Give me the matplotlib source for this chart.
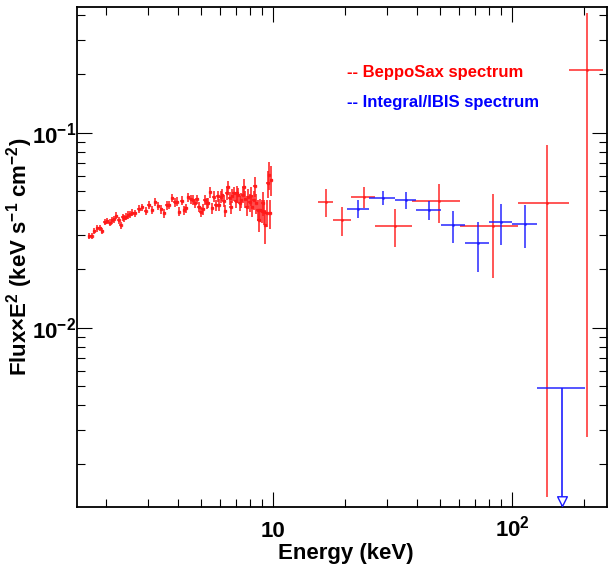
import numpy as np
import matplotlib
matplotlib.use("Agg")
import matplotlib.pyplot as plt
from matplotlib.ticker import FixedLocator, FixedFormatter, LogLocator, NullFormatter
from matplotlib.path import Path

plt.rcParams['font.family'] = ['Liberation Sans', 'DejaVu Sans']
plt.rcParams['font.weight'] = 'bold'
plt.rcParams['mathtext.fontset'] = 'custom'
plt.rcParams['mathtext.rm'] = 'Liberation Sans:bold'
plt.rcParams['mathtext.bf'] = 'Liberation Sans:bold'
plt.rcParams['mathtext.it'] = 'Liberation Sans:bold:italic'

# BeppoSax low energy channels (keV, keV^2 cm^-2 s^-1 keV^-1 * E^2)
E_sax = [1.70, 1.743, 1.788, 1.841, 1.889, 1.931, 1.982, 2.027, 2.080, 2.127,
         2.168, 2.211, 2.261, 2.305, 2.350, 2.388, 2.434, 2.481, 2.529, 2.578,
         2.645, 2.750, 2.840, 2.933, 3.028, 3.127, 3.219, 3.313, 3.410, 3.511,
         3.601, 3.683, 3.791, 3.878, 3.966, 4.056, 4.162, 4.256, 4.325, 4.423,
         4.524, 4.612, 4.701, 4.808, 4.902, 4.997, 5.094, 5.193, 5.277, 5.362,
         5.467, 5.574, 5.645, 5.756, 5.868, 5.944, 6.040, 6.138, 6.237, 6.318,
         6.400, 6.484, 6.589, 6.674, 6.760, 6.870, 6.982, 7.072, 7.163, 7.279,
         7.373, 7.492, 7.564, 7.662, 7.761, 7.861, 7.989, 8.092, 8.196, 8.303,
         8.410, 8.519, 8.628, 8.740, 8.851, 8.966, 9.082, 9.199, 9.288, 9.408,
         9.530, 9.654, 9.745, 9.840]
F_sax = [0.02941, 0.02953, 0.03133, 0.03233, 0.03246, 0.03145, 0.03483, 0.03525, 0.03456, 0.03553,
         0.03595, 0.03754, 0.03567, 0.03350, 0.03681, 0.03638, 0.03710, 0.03784, 0.03814, 0.03890,
         0.03859, 0.04062, 0.04143, 0.03983, 0.04258, 0.04014, 0.04395, 0.04224, 0.04046, 0.03859,
         0.04241, 0.04258, 0.04643, 0.04395, 0.04430, 0.03936, 0.04482, 0.04014, 0.04095, 0.04662,
         0.04553, 0.04517, 0.04344, 0.04553, 0.04176, 0.03936, 0.04046, 0.04517, 0.04344, 0.04377,
         0.04944, 0.04095, 0.04699, 0.04258, 0.04736, 0.04258, 0.04699, 0.04792, 0.04482, 0.03983,
         0.04886, 0.05285, 0.04607, 0.04143, 0.04736, 0.04886, 0.04465, 0.04925, 0.04792, 0.04344,
         0.04517, 0.04792, 0.05285, 0.04553, 0.04143, 0.04662, 0.04395, 0.04736, 0.04176, 0.04517,
         0.05328, 0.04344, 0.04014, 0.03567, 0.04014, 0.03983, 0.04344, 0.03936, 0.03363, 0.03890,
         0.05499, 0.06067, 0.03859, 0.05719]
dF_sax = [0.036, 0.036, 0.037, 0.037, 0.038, 0.038, 0.038, 0.039, 0.039, 0.040,
          0.040, 0.040, 0.041, 0.041, 0.042, 0.042, 0.042, 0.043, 0.043, 0.043,
          0.044, 0.044, 0.045, 0.045, 0.046, 0.046, 0.047, 0.047, 0.048, 0.048,
          0.049, 0.049, 0.050, 0.050, 0.051, 0.052, 0.052, 0.053, 0.053, 0.054,
          0.055, 0.056, 0.056, 0.057, 0.058, 0.059, 0.060, 0.060, 0.061, 0.062,
          0.063, 0.064, 0.065, 0.066, 0.067, 0.068, 0.069, 0.070, 0.071, 0.072,
          0.074, 0.075, 0.077, 0.078, 0.080, 0.082, 0.083, 0.085, 0.087, 0.089,
          0.091, 0.093, 0.095, 0.098, 0.100, 0.103, 0.106, 0.109, 0.112, 0.115,
          0.118, 0.122, 0.126, 0.130, 0.134, 0.138, 0.142, 0.146, 0.200, 0.155,
          0.160, 0.165, 0.170, 0.175]
dE_sax = 0.015   # half channel width, fraction of E

# BeppoSax PDS bins
E_pds = [16.62, 19.44, 24.03, 32.49, 49.50, 83.0, 139.7, 206.6]
Elo_pds = [15.47, 17.77, 21.14, 26.79, 38.27, 60.6, 105.6, 173.2]
Ehi_pds = [17.77, 21.14, 26.79, 38.05, 60.60, 105.6, 173.2, 240.3]
F_pds = [0.04427, 0.03566, 0.04681, 0.03322, 0.04480, 0.03322, 0.04375, 0.2097]
Flo_pds = [0.03695, 0.02963, 0.04096, 0.02602, 0.03454, 0.01792, 0.001354, 0.00275]
Fhi_pds = [0.05143, 0.04144, 0.05266, 0.04048, 0.05456, 0.04849, 0.08646, 0.4134]

# Integral/IBIS bins
E_ibis = [22.75, 28.77, 35.91, 44.82, 56.80, 71.86, 89.95, 113.7]
Elo_ibis = [20.34, 25.22, 32.40, 39.66, 50.31, 63.58, 80.13, 100.0]
Ehi_ibis = [25.22, 32.40, 39.55, 50.31, 63.41, 80.13, 100.0, 127.3]
F_ibis = [0.04062, 0.04642, 0.04533, 0.04015, 0.03362, 0.02719, 0.03471, 0.03414]
Flo_ibis = [0.03639, 0.04244, 0.04077, 0.03579, 0.02729, 0.01924, 0.02646, 0.02553]
Fhi_ibis = [0.04517, 0.05024, 0.04965, 0.04464, 0.03968, 0.03496, 0.04293, 0.04257]

# IBIS upper limit bin
E_ul, Elo_ul, Ehi_ul = 162.4, 127.3, 202.0
F_ul, F_ul_tip = 0.004906, 0.00122


def asym(center, lo, hi):
    c = np.array(center)
    return c, np.vstack([c - np.array(lo), np.array(hi) - c])


fig = plt.figure(figsize=(6.08, 5.69), dpi=100)
ax = fig.add_axes([77/608, 62/569, 530/608, 500/569])
ax.set_xscale('log')
ax.set_yscale('log')
ax.set_xlim(1.513, 249.7)
ax.set_ylim(0.001204, 0.4412)

red = '#ff1a1a'
blue = '#1a1aff'

E = np.array(E_sax)
F = np.array(F_sax)
ax.errorbar(E, F, yerr=F*np.array(dF_sax), xerr=E*dE_sax, fmt='s', ms=1.6,
            color=red, ecolor=red, elinewidth=1.3, alpha=0.85, capsize=0)

x, xe = asym(E_pds, Elo_pds, Ehi_pds)
y, ye = asym(F_pds, Flo_pds, Fhi_pds)
ax.errorbar(x, y, xerr=xe, yerr=ye, fmt='.', ms=2, color=red, ecolor=red,
            elinewidth=1.3, alpha=0.8, capsize=0)

x, xe = asym(E_ibis, Elo_ibis, Ehi_ibis)
y, ye = asym(F_ibis, Flo_ibis, Fhi_ibis)
ax.errorbar(x, y, xerr=xe, yerr=ye, fmt='.', ms=2, color=blue, ecolor=blue,
            elinewidth=1.3, alpha=0.8, capsize=0)

# upper limit: horizontal bin, line down, open arrow head
ax.hlines(F_ul, Elo_ul, Ehi_ul, color=blue, lw=1.3, alpha=0.8)
ax.vlines(E_ul, F_ul_tip, F_ul, color=blue, lw=1.3, alpha=0.9)
head = Path([(0, 0), (-0.5, 1), (0.5, 1), (0, 0)],
            [Path.MOVETO, Path.LINETO, Path.LINETO, Path.CLOSEPOLY])
ax.plot([E_ul], [F_ul_tip], marker=head, ms=14, mfc='white', mec=blue,
        mew=1.0, zorder=5, clip_on=False)

# axes ticks
ax.xaxis.set_major_locator(FixedLocator([10, 100]))
ax.xaxis.set_major_formatter(FixedFormatter(['10', '$10^{2}$']))
ax.xaxis.set_minor_locator(LogLocator(base=10, subs=np.arange(2, 10)))
ax.xaxis.set_minor_formatter(NullFormatter())
ax.yaxis.set_major_locator(FixedLocator([0.01, 0.1]))
ax.yaxis.set_major_formatter(FixedFormatter(['$10^{-2}$', '$10^{-1}$']))
ax.yaxis.set_minor_locator(LogLocator(base=10, subs=np.arange(2, 10)))
ax.yaxis.set_minor_formatter(NullFormatter())

ax.tick_params(which='both', direction='in', top=True, right=True, width=0.8)
ax.tick_params(which='major', length=11)
ax.tick_params(which='minor', length=5.5)
ax.tick_params(axis='x', which='major', labelsize=16, pad=21.5)
ax.tick_params(axis='y', which='major', labelsize=16, pad=0.5)
for t in ax.xaxis.get_major_ticks():
    t.label1.set_verticalalignment('baseline')
for s in ax.spines.values():
    s.set_linewidth(1.3)

fig.text(346/608, 10/569, 'Energy (keV)', fontsize=16, fontweight='bold',
         ha='center', va='baseline')
fig.text(20/608, 312/569, 'Flux×E$^{2}$ (keV s$^{-1}$ cm$^{-2}$)', fontsize=16,
         fontweight='bold', rotation=90, ha='center', va='center')

fig.text(347/608, 497/569, '-- BeppoSax spectrum', color='#ff0000', fontsize=12,
         fontweight='bold', ha='left', va='center')
fig.text(347/608, 467/569, '-- Integral/IBIS spectrum', color='#0000ff', fontsize=12,
         fontweight='bold', ha='left', va='center')

fig.savefig('out.png', dpi=100)
